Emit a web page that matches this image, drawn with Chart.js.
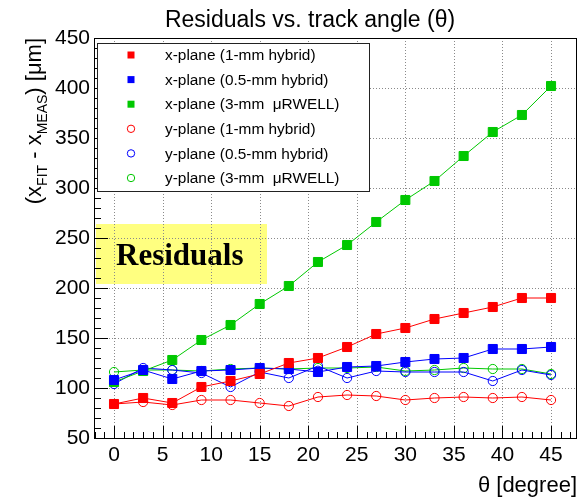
<!DOCTYPE html>
<html>
<head>
<meta charset="utf-8">
<script src="https://cdn.jsdelivr.net/npm/chart.js@4/dist/chart.umd.min.js"></script>
<style>
  html, body { margin: 0; padding: 0; background: #fff; }
  #wrap { width: 586px; height: 498px; }
</style>
</head>
<body>
<div id="wrap"><canvas id="residChart" width="586" height="498"></canvas></div>
<script>
// Residuals vs track angle
const theta = [0, 3, 6, 9, 12, 15, 18, 21, 24, 27, 30, 33, 36, 39, 42, 45];

const xHybrid1  = [84, 90, 85, 101, 107, 114, 125, 130, 141, 154, 160, 169, 175, 181, 190, 190];
const xHybrid05 = [108, 118, 109, 117, 118, 120, 119, 116, 121, 122, 126, 129, 130, 139, 139, 141];
const xUrwell   = [106, 117, 128, 148, 163, 184, 202, 226, 243, 266, 288, 307, 332, 356, 373, 402];
const yHybrid1  = [84, 86, 83, 88, 88, 85, 82, 91, 93, 92, 88, 90, 91, 90, 91, 88];
const yHybrid05 = [104, 120, 118, 115, 101, 116, 110, 122, 110, 117, 116, 116, 116, 107, 118, 113];
const yUrwell   = [116, 118, 118, 117, 119, 120, 119, 120, 120, 121, 117, 118, 120, 119, 119, 114];

const seriesLabels = [
    'x-plane (1-mm hybrid)',
    'x-plane (0.5-mm hybrid)',
    'x-plane (3-mm  \u03bcRWELL)',
    'y-plane (1-mm hybrid)',
    'y-plane (0.5-mm hybrid)',
    'y-plane (3-mm  \u03bcRWELL)'
];
const seriesValues = [xHybrid1, xHybrid05, xUrwell, yHybrid1, yHybrid05, yUrwell];
const seriesColors = ['#ff0000', '#0000ff', '#00c800', '#ff0000', '#0000ff', '#00c800'];
const seriesFilled = [true, true, true, false, false, false];

const xTicks = [0, 5, 10, 15, 20, 25, 30, 35, 40, 45];
const yTicks = [50, 100, 150, 200, 250, 300, 350, 400, 450];

const FONT = "'Liberation Sans', Arial, Helvetica, sans-serif";

function makeDataset(i) {
    const col = seriesColors[i];
    return {
        label: seriesLabels[i],
        data: theta.map((t, k) => ({ x: t, y: seriesValues[i][k] })),
        borderColor: col,
        borderWidth: 1,
        tension: 0,
        fill: false,
        pointStyle: seriesFilled[i] ? 'rect' : 'circle',
        pointRadius: seriesFilled[i] ? 6.4 : 4.6,
        pointBackgroundColor: seriesFilled[i] ? col : 'rgba(0,0,0,0)',
        pointBorderColor: col,
        pointBorderWidth: 1
    };
}

// grid, yellow label box, frame, ticks, legend, titles
const rootStyle = {
    id: 'rootStyle',
    beforeDatasetsDraw(chart) {
        const ctx = chart.ctx;
        const xs = chart.scales.x, ys = chart.scales.y;
        const a = chart.chartArea;
        ctx.save();
        // yellow "Residuals" box
        ctx.fillStyle = 'rgb(255,255,128)';
        ctx.fillRect(96, 224, 171, 60);
        ctx.fillStyle = '#000';
        ctx.font = "bold 31px 'Liberation Serif', 'Times New Roman', serif";
        ctx.textBaseline = 'alphabetic';
        ctx.fillText('Residuals', 116, 265);
        // dotted grid
        ctx.strokeStyle = '#8a8a8a';
        ctx.lineWidth = 1;
        ctx.setLineDash([1, 2]);
        xTicks.forEach(v => {
            const px = Math.round(xs.getPixelForValue(v)) + 0.5;
            ctx.beginPath(); ctx.moveTo(px, a.top); ctx.lineTo(px, a.bottom); ctx.stroke();
        });
        yTicks.forEach(v => {
            const py = Math.round(ys.getPixelForValue(v)) + 0.5;
            ctx.beginPath(); ctx.moveTo(a.left, py); ctx.lineTo(a.right, py); ctx.stroke();
        });
        ctx.restore();
    },
    afterDatasetsDraw(chart) {
        const ctx = chart.ctx;
        const xs = chart.scales.x, ys = chart.scales.y;
        const a = chart.chartArea;
        ctx.save();
        ctx.strokeStyle = '#000';
        ctx.lineWidth = 1;
        // frame
        ctx.strokeRect(Math.round(a.left) + 0.5, Math.round(a.top) + 0.5,
            Math.round(a.right - a.left), Math.round(a.bottom - a.top));
        // x ticks
        ctx.beginPath();
        for (let v = Math.ceil(xs.min); v <= xs.max; v++) {
            const px = Math.round(xs.getPixelForValue(v)) + 0.5;
            const len = v % 5 === 0 ? 12 : 6;
            ctx.moveTo(px, a.bottom); ctx.lineTo(px, a.bottom - len);
        }
        // y ticks
        for (let v = 50; v <= 450; v += 10) {
            const py = Math.round(ys.getPixelForValue(v)) + 0.5;
            const len = v % 50 === 0 ? 14 : 7;
            ctx.moveTo(a.left, py); ctx.lineTo(a.left + len, py);
        }
        ctx.stroke();

        // legend
        const lx = 97, ly = 43, lw = 272, lh = 148;
        ctx.fillStyle = '#fff';
        ctx.fillRect(lx, ly, lw, lh);
        ctx.strokeStyle = '#222';
        ctx.strokeRect(lx + 0.5, ly + 0.5, lw, lh);
        ctx.font = '15.4px ' + FONT;
        ctx.textBaseline = 'middle';
        seriesLabels.forEach((lab, i) => {
            const cy = 55 + i * 24.6;
            ctx.fillStyle = seriesColors[i];
            ctx.strokeStyle = seriesColors[i];
            if (seriesFilled[i]) {
                ctx.fillRect(127.5, cy - 3.5, 7, 7);
            } else {
                ctx.beginPath();
                ctx.arc(131, cy, 3.7, 0, Math.PI * 2);
                ctx.stroke();
            }
            ctx.fillStyle = '#000';
            ctx.fillText(lab, 165, cy + 1);
        });
        ctx.restore();
    },
    afterDraw(chart) {
        const ctx = chart.ctx;
        ctx.save();
        ctx.fillStyle = '#000';
        // title
        ctx.font = '23px ' + FONT;
        ctx.textAlign = 'center';
        ctx.textBaseline = 'alphabetic';
        ctx.fillText('Residuals vs. track angle (\u03b8)', 310, 27);
        // x title
        ctx.font = '22px ' + FONT;
        ctx.textAlign = 'right';
        ctx.fillText('\u03b8 [degree]', 577, 492);
        // y title with subscripts, rotated, right-aligned at the top of the frame
        const parts = [
            ['(x', 22, 0], ['FIT', 14, 6], [' - x', 22, 0], ['MEAS', 14, 6], [') [\u03bcm]', 22, 0]
        ];
        let total = 0;
        parts.forEach(p => { ctx.font = p[1] + 'px ' + FONT; total += ctx.measureText(p[0]).width; });
        ctx.translate(41, 38);
        ctx.rotate(-Math.PI / 2);
        ctx.textAlign = 'left';
        let cx = -total;
        parts.forEach(p => {
            ctx.font = p[1] + 'px ' + FONT;
            ctx.fillText(p[0], cx, p[2]);
            cx += ctx.measureText(p[0]).width;
        });
        ctx.restore();
    }
};

window.addEventListener('DOMContentLoaded', () => {
    const ctx = document.getElementById('residChart').getContext('2d');
    new Chart(ctx, {
        type: 'line',
        data: { datasets: seriesLabels.map((_, i) => makeDataset(i)) },
        options: {
            responsive: false,
            animation: false,
            events: [],
            layout: { autoPadding: false, padding: { top: 38, right: 10, bottom: 0, left: 0 } },
            plugins: { legend: { display: false }, tooltip: { enabled: false }, title: { display: false } },
            scales: {
                x: {
                    type: 'linear',
                    min: -2.06,
                    max: 47.57,
                    afterBuildTicks: s => { s.ticks = xTicks.map(v => ({ value: v })); },
                    afterFit: s => { s.height = 60; },
                    grid: { display: false, drawTicks: false },
                    border: { display: false },
                    ticks: {
                        autoSkip: false, maxRotation: 0, padding: 5, color: '#000',
                        font: { family: FONT, size: 21 }
                    }
                },
                y: {
                    type: 'linear',
                    min: 50,
                    max: 450,
                    afterBuildTicks: s => { s.ticks = yTicks.map(v => ({ value: v })); },
                    afterFit: s => { s.width = 94; },
                    grid: { display: false, drawTicks: false },
                    border: { display: false },
                    ticks: {
                        autoSkip: false, padding: 4, color: '#000',
                        font: { family: FONT, size: 21 }
                    }
                }
            }
        },
        plugins: [rootStyle]
    });
});
</script>
</body>
</html>
